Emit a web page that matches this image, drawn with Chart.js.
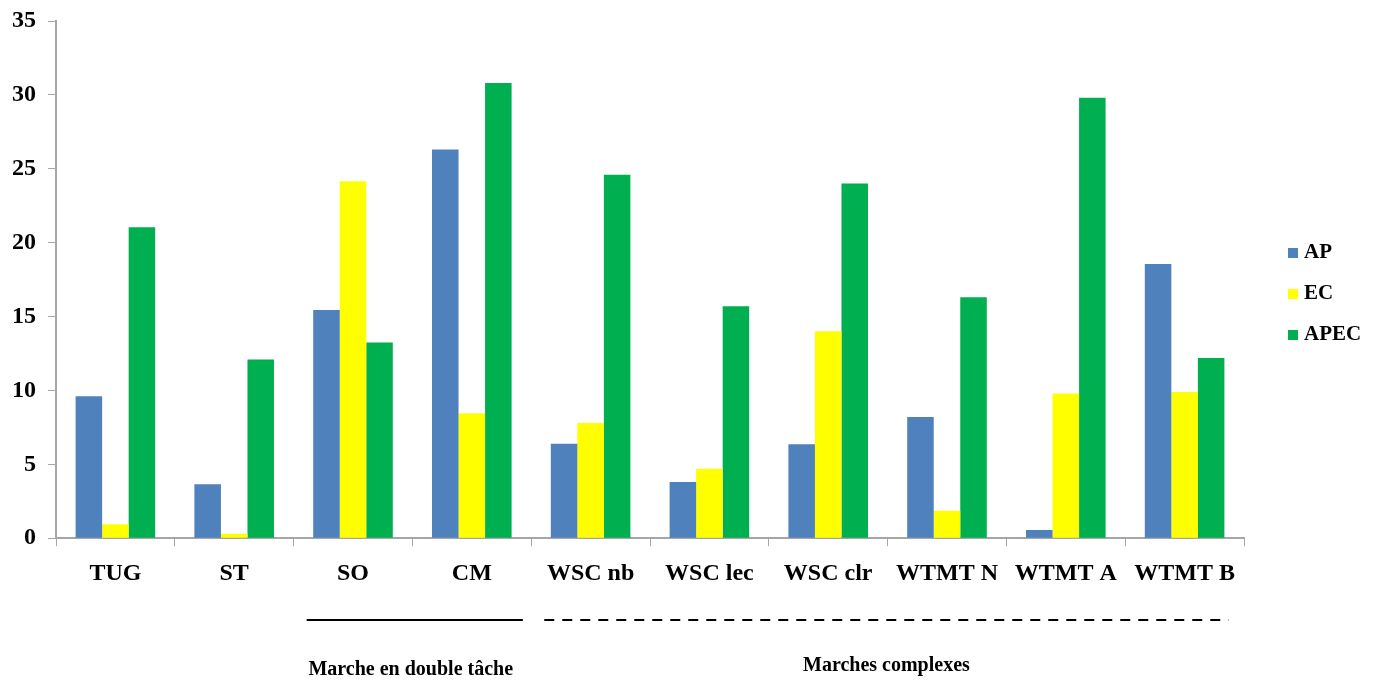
<!DOCTYPE html>
<html lang="fr">
<head>
  <meta charset="UTF-8">
  <title>AP / EC / APEC</title>
  <script src="https://cdn.jsdelivr.net/npm/chart.js"></script>
  <style>
    html, body { margin: 0; padding: 0; background: #fff; }
    #wrap { width: 1386px; height: 680px; }
  </style>
</head>
<body>
  <div id="wrap"><canvas id="graphe"></canvas></div>

  <script>
    // Données
    const categories = ['TUG', 'ST', 'SO', 'CM', 'WSC nb', 'WSC lec', 'WSC clr', 'WTMT N', 'WTMT A', 'WTMT B'];
    const valeursAP   = [9.6, 3.65, 15.45, 26.3, 6.4, 3.8, 6.35, 8.2, 0.55, 18.55];
    const valeursEC   = [0.95, 0.3, 24.15, 8.45, 7.8, 4.7, 14.0, 1.85, 9.8, 9.9];
    const valeursAPEC = [21.05, 12.1, 13.25, 30.8, 24.6, 15.7, 24.0, 16.3, 29.8, 12.2];
    const ticksY = [0, 5, 10, 15, 20, 25, 30, 35];

    // Regroupements sous l'axe : [premier index, dernier index, libellé, pointillé]
    const groupes = [
      [2, 3, 'Marche en double tâche', false],
      [4, 9, 'Marches complexes', true]
    ];

    const police = 'Liberation Serif, Times New Roman, serif';

    // Légende et regroupements dessinés à la main
    const extras = {
      id: 'extras',
      afterDraw(chart) {
        const ctx = chart.ctx;
        const x = chart.scales.x;
        const pas = x.getPixelForValue(1) - x.getPixelForValue(0);

        ctx.save();
        ctx.strokeStyle = '#000';
        ctx.fillStyle = '#000';
        ctx.lineWidth = 2;
        ctx.font = 'bold 20px ' + police;
        ctx.textAlign = 'center';
        ctx.textBaseline = 'middle';
        groupes.forEach(g => {
          const x1 = x.getPixelForValue(g[0]) - pas * 0.39;
          const x2 = x.getPixelForValue(g[1]) + pas * (g[3] ? 0.37 : 0.43);
          ctx.setLineDash(g[3] ? [10, 8] : []);
          ctx.beginPath();
          ctx.moveTo(x1, 620);
          ctx.lineTo(x2, 620);
          ctx.stroke();
          ctx.fillText(g[2], (x1 + x2) / 2 - (g[3] ? 0 : 4), g[3] ? 666 : 670);
        });
        ctx.setLineDash([]);

        // légende
        ctx.textAlign = 'left';
        ctx.font = 'bold 21px ' + police;
        chart.data.datasets.forEach((ds, i) => {
          const y = 253 + i * 41;
          ctx.fillStyle = ds.backgroundColor;
          ctx.fillRect(1288, y - 5, 10, 10);
          ctx.fillStyle = '#000';
          ctx.fillText(ds.label, 1304, y);
        });
        ctx.restore();
      }
    };

    new Chart(document.getElementById('graphe'), {
      type: 'bar',
      data: {
        labels: categories,
        datasets: [
          { label: 'AP', data: valeursAP, backgroundColor: '#4F81BD' },
          { label: 'EC', data: valeursEC, backgroundColor: '#FFFF00' },
          { label: 'APEC', data: valeursAPEC, backgroundColor: '#00B050' }
        ]
      },
      options: {
        responsive: true,
        maintainAspectRatio: false,
        animation: false,
        categoryPercentage: 0.67,
        barPercentage: 1,
        layout: { padding: { top: 0, right: 142, bottom: 79, left: 0 } },
        plugins: {
          legend: { display: false },
          tooltip: { enabled: false }
        },
        scales: {
          x: {
            grid: { drawOnChartArea: false, color: '#a6a6a6', tickLength: 8, offset: true },
            border: { color: '#a6a6a6', width: 2 },
            ticks: { color: '#000', font: { family: police, size: 24, weight: 'bold' }, padding: 13 }
          },
          y: {
            min: 0,
            max: 35,
            afterBuildTicks(axis) { axis.ticks = ticksY.map(v => ({ value: v })); },
            grid: { drawOnChartArea: false, color: '#a6a6a6', tickLength: 8 },
            border: { color: '#a6a6a6', width: 2 },
            ticks: { color: '#000', font: { family: police, size: 24, weight: 'bold', lineHeight: 0.75 }, padding: 12 }
          }
        }
      },
      plugins: [extras]
    });
  </script>
</body>
</html>
